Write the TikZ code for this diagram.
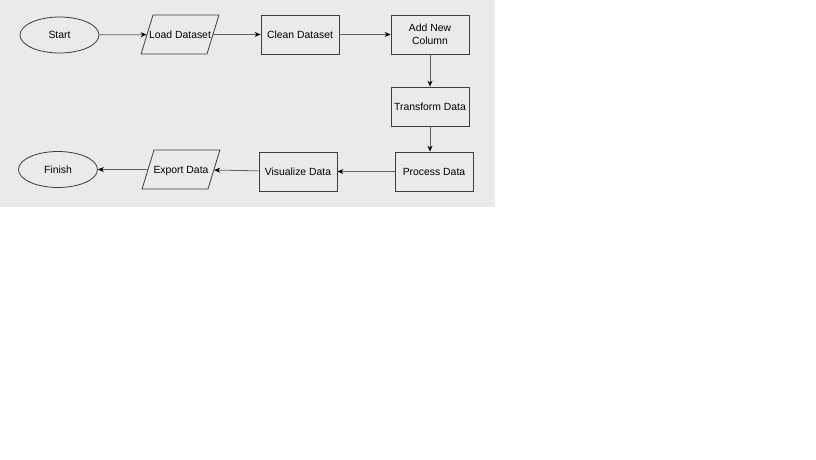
\documentclass[tikz,border=0pt]{standalone}
\usepackage{fontspec}
\setmainfont{Liberation Sans}
\usetikzlibrary{shapes.geometric,arrows.meta}
\definecolor{bggray}{HTML}{EAEAEA}
\definecolor{edgegray}{HTML}{3C3C3C}
\definecolor{linegray}{HTML}{606060}
\newcommand{\iotext}[1]{\makebox[54pt]{#1}}
\tikzset{
  every node/.style={font=\fontsize{10.4}{13}\selectfont, text=black},
  term/.style={draw=edgegray, line width=0.8pt, ellipse, minimum width=79pt, minimum height=36pt, inner sep=0pt},
  proc/.style={draw=edgegray, line width=0.8pt, rectangle, minimum width=78pt, minimum height=39pt, inner sep=0pt, align=center},
  io/.style={draw=edgegray, line width=0.8pt, trapezium, trapezium left angle=73, trapezium right angle=107,
    text height=9.4pt, text depth=2.2pt, inner ysep=13.7pt, inner xsep=0pt}
}
\tikzset{flow/.style={draw=linegray, line width=0.8pt, -{Stealth[length=6pt,width=5pt,black]}}}
\begin{document}
\begin{tikzpicture}[x=1pt,y=-1pt]
\useasboundingbox (0,0) rectangle (816,460);
\fill[bggray] (0,0) rectangle (495,207);
\node[term] (1) at (59.5,35) {Start};
\node[io] (2) at (180,34.5) {\iotext{Load Dataset}};
\node[proc] (3) at (300,34.5) {Clean Dataset};
\node[proc] (4) at (430,34.5) {Add New\\Column};
\node[proc] (5) at (430,106.5) {Transform Data};
\node[proc] (6) at (434,171.5) {Process Data};
\node[proc] (7) at (298,171.5) {Visualize Data};
\node[io] (8) at (181,169.5) {\iotext{Export Data}};
\node[term] (9) at (58,169.5) {Finish};
\path[flow] (1) -- (2);
\path[flow] (2) -- (3);
\path[flow] (3) -- (4);
\path[flow] (4) -- (5);
\path[flow] (5) -- (5 |- 6.north);
\path[flow] (6) -- (7);
\path[flow] (7) -- (8);
\path[flow] (8) -- (9);
\end{tikzpicture}
\end{document}
